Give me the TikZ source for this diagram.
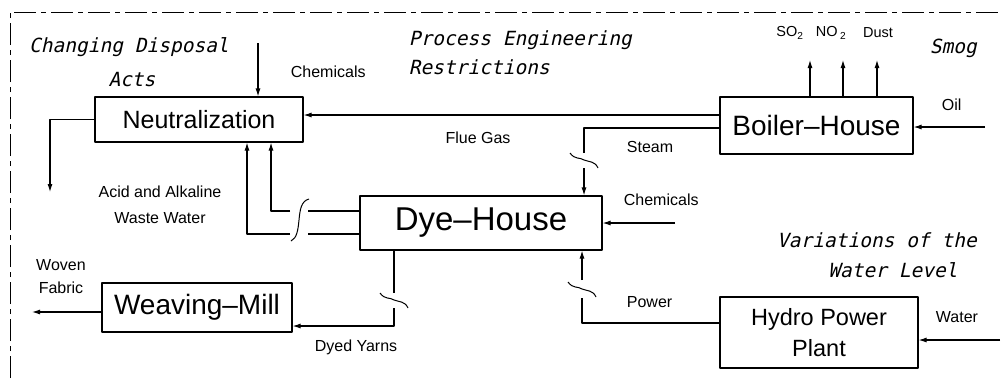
\documentclass[tikz,border=0pt]{standalone}
\usepackage{fontspec}
\setmainfont{Liberation Sans}
\newfontfamily\notefont{DejaVu Sans Mono}[FakeSlant=0.22]
\usetikzlibrary{arrows.meta}

% tilde-shaped break on a vertical line at (#1,#2)
\newcommand{\cutmark}[2]{%
  \draw[brk] ({#1-14},{#2-7}) .. controls ({#1-9},{#2}) and ({#1-4},{#2-3}) .. (#1,#2)
    .. controls ({#1+5},{#2+2}) and ({#1+11},{#2+1}) .. ({#1+14},{#2+8});}

\begin{document}
\begin{tikzpicture}[x=1pt, y=-1pt, line width=1.1pt, line join=round,
    box/.style={draw, inner sep=0pt, align=center},
    flow/.style={-{Latex[length=8pt,width=5pt]}},
    note/.style={font=\notefont\fontsize{19.5}{22}\selectfont},
    lbl/.style={font=\fontsize{16}{18}\selectfont},
    brk/.style={line width=1pt}]
  \useasboundingbox (0,0) rectangle (1003,378);

  % Dash-dot frame, top and left side only
  \draw[line width=0.9pt, dash pattern=on 22pt off 5pt on 5pt off 5pt] (10,378) -- (10,12) -- (1003,12);

  % Plant units
  \node[box, minimum width=208pt, minimum height=45pt, font=\fontsize{25}{28}\selectfont] (neut) at (199,119.5) {Neutralization};
  \node[box, minimum width=193pt, minimum height=57pt, font=\fontsize{28}{30}\selectfont] (boiler) at (816.5,125.5) {Boiler--House};
  \node[box, minimum width=242pt, minimum height=54pt, font=\fontsize{33}{36}\selectfont] (dye) at (481,223) {Dye--House};
  \node[box, minimum width=190pt, minimum height=49pt, font=\fontsize{28}{30}\selectfont] (weave) at (197,307.5) {Weaving--Mill};
  \node[box, minimum width=198pt, minimum height=71pt, font=\fontsize{23.5}{31}\selectfont] (hydro) at (819,332.5) {Hydro Power\\Plant};

  % Free ends and bends
  \coordinate (flue)   at (0,115);
  \coordinate (chemN)  at (258,43);
  \coordinate (drain)  at (50,192);
  \coordinate (steamA) at (584,128);
  \coordinate (steamB) at (584,168);
  \coordinate (oil)    at (985,127);
  \coordinate (chemD)  at (675,223);
  \coordinate (acidA)  at (271,211);
  \coordinate (alkB)   at (247,234);
  \coordinate (yarn)   at (394,326);
  \coordinate (yarnB)  at (394,308);
  \coordinate (power)  at (582,323);
  \coordinate (powerB) at (582,280);
  \coordinate (water)  at (1000,340);
  \coordinate (fabric) at (32,312);

  % Flows around the neutralization
  \draw[flow] (chemN) -- (chemN |- neut.north);
  \draw[flow] (boiler.west |- flue) -- (neut.east |- flue);
  \draw[flow] (neut.west) -| (drain);

  % Waste water from the dye-house, with break
  \draw (dye.west |- acidA) -- (308,211);
  \draw[flow] (290,211) -- (acidA) -- (acidA |- neut.south);
  \draw (dye.west |- alkB) -- (308,234);
  \draw[flow] (290,234) -- (alkB) -- (alkB |- neut.south);
  \draw[brk] (309,199) .. controls (301,201) and (300,210) .. (299,220)
    .. controls (298,230) and (297,238) .. (291,241);

  % Boiler-house
  \foreach \x in {810,843,877}
    \draw[flow] (boiler.north -| \x,0) -- (\x,60);
  \draw[flow] (oil) -- (oil -| boiler.east);
  \draw (boiler.west |- steamA) -- (steamA) -- (584,153);
  \cutmark{584}{160}
  \draw[flow] (steamB) -- (dye.north -| steamB);

  % Dye-house inputs and outputs
  \draw[flow] (chemD) -- (dye.east);
  \draw (dye.south -| yarn) -- (394,293);
  \cutmark{394}{300}
  \draw[flow] (yarnB) -- (yarn) -- (yarn -| weave.east);
  \draw[flow] (weave.west |- fabric) -- (fabric);

  % Hydro power plant
  \draw[flow] (water) -- (water -| hydro.east);
  \draw (hydro.west |- power) -- (power) -- (582,298);
  \cutmark{582}{289}
  \draw[flow] (powerB) -- (dye.south -| powerB);

  % Stream labels
  \node[lbl, anchor=west] (lchemN) at (287,72) {Chemicals};
  \node[lbl] (lflue) at (478,138) {Flue Gas};
  \node[lbl, anchor=west] (lsteam) at (623,147) {Steam};
  \node[lbl, anchor=west] (loil) at (938,105) {Oil};
  \node[lbl, font=\fontsize{14.5}{16}\selectfont] (lso) at (790,33) {SO\textsubscript{2}};
  \node[lbl, font=\fontsize{14.5}{16}\selectfont] (lno) at (831,33) {NO\,\textsubscript{2}};
  \node[lbl, font=\fontsize{14.5}{16}\selectfont] (ldust) at (878,33) {Dust};
  \node[lbl, align=center, font=\fontsize{16}{26}\selectfont] (lacid) at (160,205) {Acid and Alkaline\\Waste Water};
  \node[lbl, anchor=west] (lchemD) at (620,200) {Chemicals};
  \node[lbl, align=center, font=\fontsize{16}{23}\selectfont] (lfabric) at (61,276.5) {Woven\\Fabric};
  \node[lbl] (lyarn) at (356,347) {Dyed Yarns};
  \node[lbl, anchor=west] (lpower) at (623,302) {Power};
  \node[lbl, anchor=west] (lwater) at (932,317) {Water};

  % Constraints
  \node[note] (cdisp) at (129,47) {Changing Disposal};
  \node[note] (cacts) at (132,80) {Acts};
  \node[note, anchor=west] (cproc) at (405,40) {Process Engineering};
  \node[note, anchor=west] (crest) at (405,67) {Restrictions};
  \node[note, anchor=west] (csmog) at (926,48) {Smog};
  \node[note] (cvar) at (877,240) {Variations of the};
  \node[note] (clevel) at (893,270) {Water Level};
\end{tikzpicture}
\end{document}
